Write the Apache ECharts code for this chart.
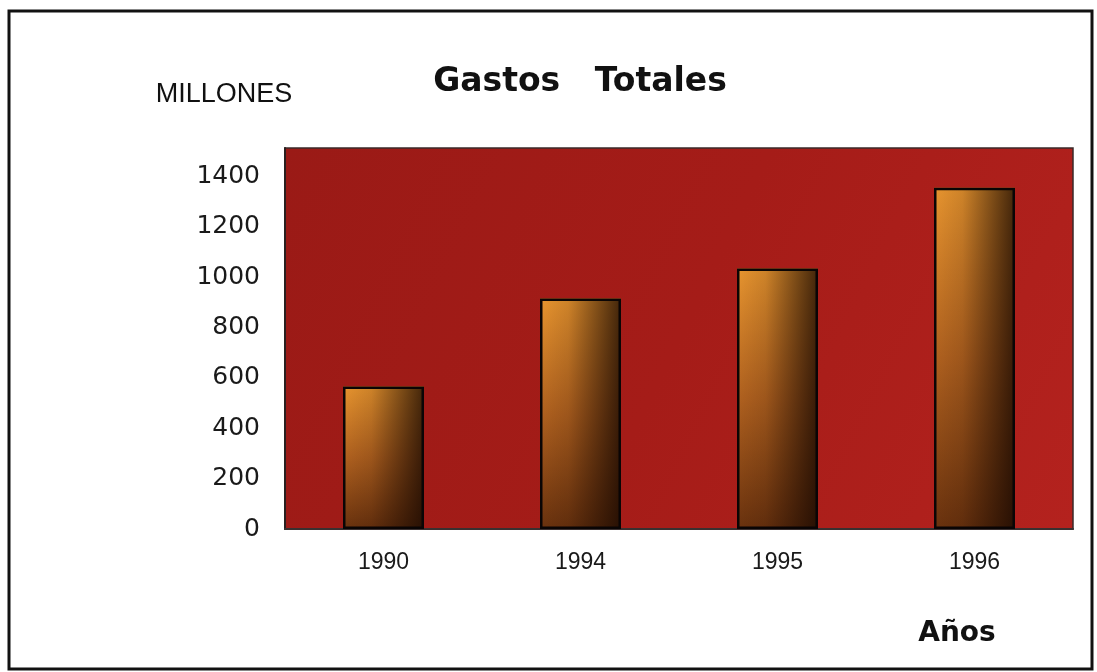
<!DOCTYPE html>
<html>
<head>
<meta charset="utf-8">
<script src="https://cdn.jsdelivr.net/npm/echarts@6/dist/echarts.min.js"></script>
<style>
html,body{margin:0;padding:0;background:#fff;}
#chart{width:1097px;height:672px;}
</style>
</head>
<body>
<div id="chart"></div>
<script>
const categories = ['1990', '1994', '1995', '1996'];
const gastos = [566, 915, 1034, 1354];
const yTicks = [0, 200, 400, 600, 800, 1000, 1200, 1400];
const titleText = 'Gastos   Totales';
const yUnit = 'MILLONES';
const xName = 'Años';

const chart = echarts.init(document.getElementById('chart'), null, {renderer: 'canvas'});
const barVertical = new echarts.graphic.LinearGradient(0, 0, 0, 1, [
  {offset: 0, color: '#e8952f'},
  {offset: 0.5, color: '#b0611f'},
  {offset: 1, color: '#6a320e'}
]);
const barShade = new echarts.graphic.LinearGradient(0, 0, 1, 0, [
  {offset: 0, color: 'rgba(20,6,0,0)'},
  {offset: 0.35, color: 'rgba(20,6,0,0.12)'},
  {offset: 1, color: 'rgba(20,6,0,0.78)'}
]);
const bgGradient = new echarts.graphic.LinearGradient(0, 0, 1, 1, [
  {offset: 0, color: '#9a1a16'},
  {offset: 0.5, color: '#a51c18'},
  {offset: 1, color: '#b4221e'}
]);
chart.setOption({
  backgroundColor: '#ffffff',
  animation: false,
  grid: {
    left: 285, right: 24, top: 148, bottom: 143,
    show: true,
    backgroundColor: bgGradient,
    borderColor: '#3a2a2a',
    borderWidth: 1.5
  },
  xAxis: {
    type: 'category',
    data: categories,
    axisLine: {show: true, lineStyle: {color: '#3a3030', width: 2}},
    axisTick: {show: false},
    axisLabel: {color: '#1a1a1a', fontSize: 23, fontFamily: 'Liberation Sans', margin: 22}
  },
  yAxis: {
    type: 'value',
    min: 0,
    max: 1512,
    interval: 200,
    axisLine: {show: true, lineStyle: {color: '#2a2020', width: 2}},
    axisTick: {show: false},
    splitLine: {show: false},
    axisLabel: {
      color: '#1a1a1a', fontSize: 25, fontFamily: 'DejaVu Sans', margin: 25,
      showMaxLabel: false,
      formatter: function (v) { return yTicks.indexOf(v) >= 0 ? String(v) : ''; }
    }
  },
  series: [{
    type: 'bar',
    data: gastos,
    barWidth: 81,
    itemStyle: {color: barVertical, borderWidth: 0}
  }, {
    type: 'bar',
    data: gastos,
    barWidth: 81,
    barGap: '-100%',
    itemStyle: {color: barShade, borderColor: '#0a0505', borderWidth: 2.5}
  }],
  graphic: [
    {type: 'rect', shape: {x: 9, y: 11, width: 1083, height: 658},
     style: {fill: 'none', stroke: '#111', lineWidth: 3}, silent: true},
    {type: 'text', x: 580, y: 82,
     style: {text: titleText, fill: '#111', font: 'bold 33px "DejaVu Sans"', textAlign: 'center', textVerticalAlign: 'middle'}},
    {type: 'text', x: 224, y: 95,
     style: {text: yUnit, fill: '#111', font: '27px "Liberation Sans"', textAlign: 'center', textVerticalAlign: 'middle'}},
    {type: 'text', x: 957, y: 634,
     style: {text: xName, fill: '#111', font: 'bold 28px "DejaVu Sans"', textAlign: 'center', textVerticalAlign: 'middle'}}
  ]
});
</script>
</body>
</html>
